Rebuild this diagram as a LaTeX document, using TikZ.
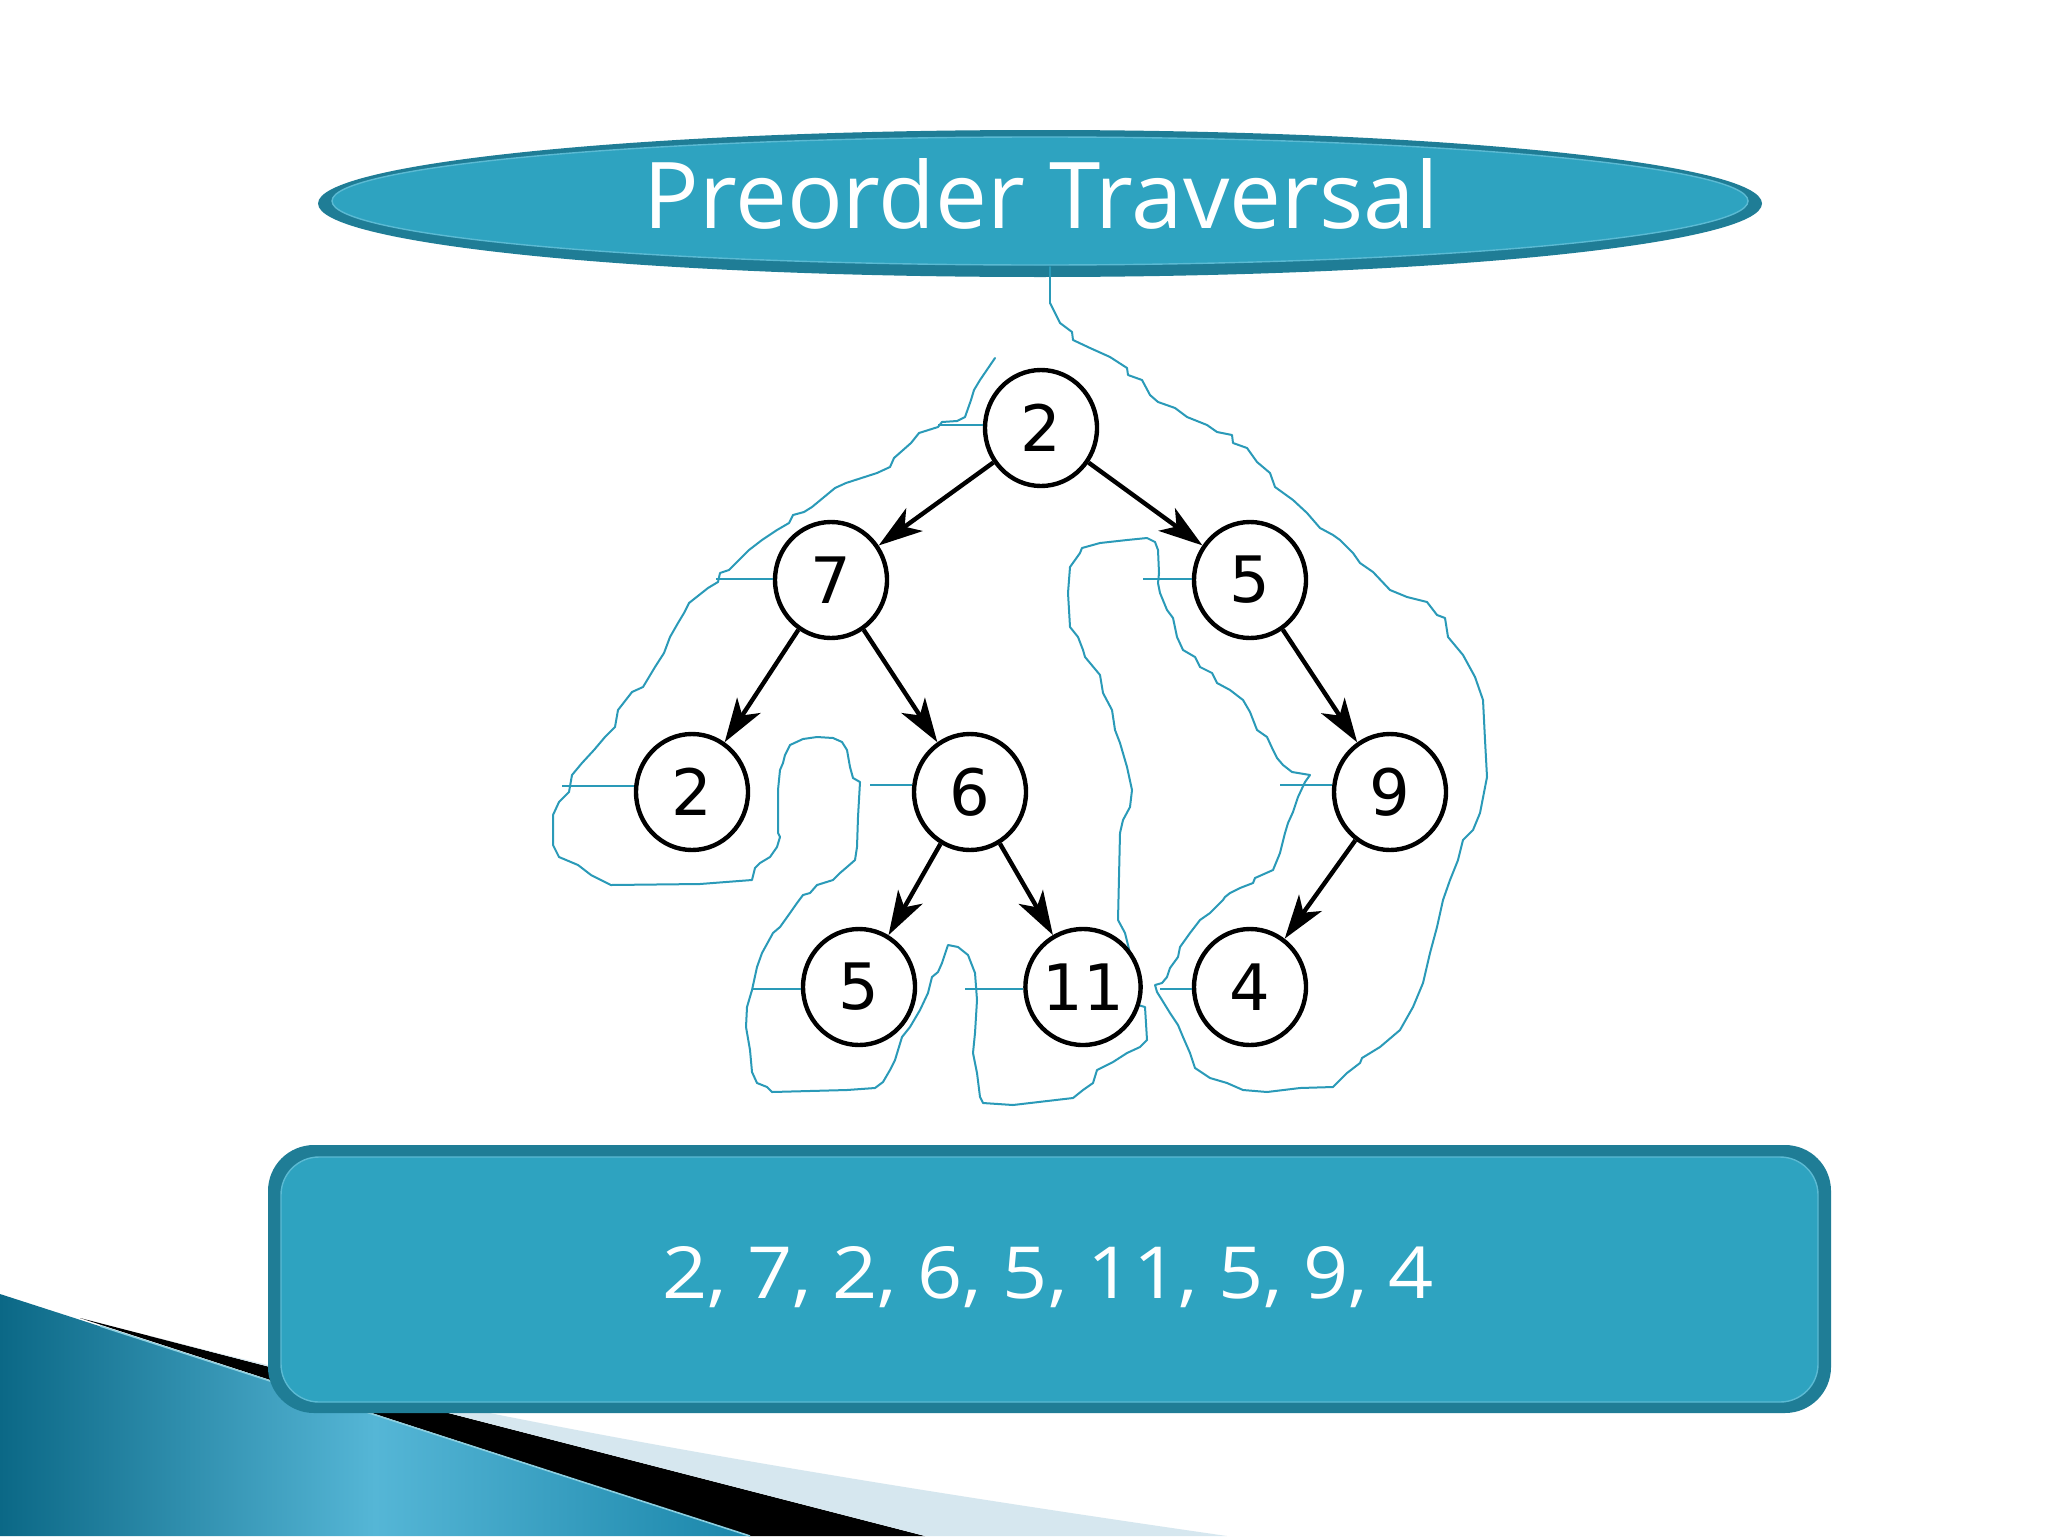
\documentclass[tikz,border=0pt]{standalone}
\usepackage{fontspec}
\newfontfamily\titlefont{Open Sans}
\newfontfamily\digitfont{DejaVu Sans}
\usetikzlibrary{arrows.meta,shapes.geometric}
\definecolor{mainfill}{HTML}{2EA3C0}
\definecolor{rimcol}{HTML}{1F7D96}
\definecolor{hlcol}{HTML}{5BBAD3}
\definecolor{travcol}{HTML}{2A9AB8}
\definecolor{tealdark}{HTML}{0B6886}
\definecolor{teallight}{HTML}{55B6D6}
\definecolor{tealmid}{HTML}{1A86AA}
\definecolor{paleblue}{HTML}{D6E7EF}
\tikzset{
  treenode/.style={ellipse, draw=black, line width=2.2pt, fill=white, minimum width=56pt, minimum height=58pt, inner sep=0pt, font=\digitfont\fontsize{32}{32}\selectfont},
  arr/.style={line width=2.2pt, -{Stealth[length=22pt,width=14pt,inset=6pt]}},
  trav/.style={travcol, line width=1pt, line join=round, line cap=round},
  tickline/.style={travcol, line width=1pt}
}
\begin{document}
\begin{tikzpicture}[x=0.5pt,y=-0.5pt]
\useasboundingbox (0,0) rectangle (2048,1536);
\fill[white] (0,0) rectangle (2048,1536);
% bottom-left decoration
\shade[left color=tealdark, right color=tealmid, middle color=teallight] (0,1294) -- (750,1536) -- (0,1536) -- cycle;
\fill[black] (80,1318) -- (925,1536) -- (750,1536) -- cycle;
\fill[paleblue] (150,1336) .. controls (400,1400) and (700,1460) .. (1227,1536) -- (925,1536) -- cycle;
\draw[hlcol!70!white, line width=0.8pt] (100,1326) -- (750,1536);
% title ellipse
\fill[rimcol] (1040,203.5) ellipse [x radius=722, y radius=73.5];
\fill[mainfill, draw=hlcol, line width=0.7pt] (1040,201) ellipse [x radius=708, y radius=64];
\node[anchor=base, text=white, inner sep=0pt] (title) at (1041,228) {\resizebox{397.5pt}{35pt}{\titlefont Preorder Traversal}};
\coordinate (tbottom) at (1050,267);
% result box
\fill[rimcol, rounded corners=23pt] (268,1145) rectangle (1831,1413);
\fill[mainfill, draw=hlcol, line width=0.7pt, rounded corners=19pt] (281,1157) rectangle (1818,1402);
\node[anchor=base, text=white, inner sep=0pt] (result) at (1048,1298) {\resizebox{385.5pt}{26pt}{\titlefont 2, 7, 2, 6, 5, 11, 5, 9, 4}};
% traversal curve
\draw[trav] plot coordinates {(995,358) (980,380) (974,390) (971,400) (965,417) (957,421) (942,422) (938,427) (919,433) (911,443) (894,458) (890,467) (877,473) (846,483) (835,488) (812,507) (804,512) (793,515) (789,523) (777,530) (762,540) (749,550) (739,560) (729,570) (720,573) (718,582) (708,588) (689,603) (684,613) (678,623) (670,637) (664,653) (655,667) (643,687) (632,692) (618,710) (615,727) (605,737) (594,750) (582,763) (572,775) (569,792) (559,802) (553,815) (553,845) (559,857) (578,865) (591,875) (611,885) (700,884) (752,880)
(755,868) (760,863) (770,857) (777,847) (780,837) (778,833) (778,790) (780,770) (783,763) (785,755) (790,745) (803,739) (817,737) (833,738) (842,742) (847,750) (850,767) (853,778) (860,782) (858,817) (857,847) (855,860) (847,867) (840,873) (833,880) (817,885) (810,893) (803,895) (797,903) (790,913) (780,927) (773,933) (762,953) (757,967) (752,990) (747,1007) (746,1027) (750,1050) (752,1072) (757,1083) (767,1087) (772,1092) (847,1090) (875,1088) (883,1082) (890,1070) (895,1060) (902,1037) (910,1027) (920,1010) (928,993) (932,977) (938,972) (942,963) (947,948) (948,945) (958,947) (968,955) (975,973) (977,1000) (975,1033) (973,1053) (977,1073) (980,1097) (983,1103) (1013,1105) (1073,1098) (1083,1090) (1093,1083) (1097,1070) (1113,1062) (1127,1053) (1140,1047) (1147,1040) (1145,1007) (1138,1005) (1135,1000) (1133,980) (1130,953) (1125,933) (1118,920) (1120,833) (1123,820) (1130,807) (1132,790) (1127,767) (1120,743) (1115,730) (1112,710) (1103,693) (1100,675) (1085,657) (1083,650) (1078,637) (1070,627) (1068,593) (1070,567) (1080,553) (1082,548) (1100,543) (1127,540) (1147,538) (1155,542) (1158,550) (1159,573) (1158,583) (1160,593) (1167,610) (1173,618) (1177,637) (1183,650) (1195,657) (1200,667) (1212,673) (1217,683) (1230,690) (1243,700) (1250,712) (1257,730) (1267,737) (1273,750) (1277,758) (1283,765) (1292,772) (1310,775) (1305,782) (1298,797) (1293,812) (1288,823) (1285,833) (1280,853) (1273,870) (1255,878) (1253,883) (1240,888) (1230,893) (1225,897) (1223,900) (1210,913) (1200,920) (1190,933) (1180,947) (1178,957) (1170,968) (1167,977) (1162,983) (1155,985) (1157,992) (1162,1000) (1170,1013) (1178,1025) (1183,1037) (1190,1053) (1195,1068) (1210,1078) (1227,1083) (1243,1090) (1267,1092) (1300,1088) (1333,1087) (1347,1073) (1360,1063) (1362,1058) (1380,1047) (1400,1030) (1413,1007) (1423,983) (1430,953) (1437,927) (1443,900) (1450,880) (1458,860) (1463,840) (1473,830) (1480,813) (1487,777) (1485,740) (1483,700) (1475,677) (1463,655) (1448,637) (1445,618) (1437,615) (1427,602) (1407,597) (1390,590) (1373,572) (1360,563) (1353,553) (1340,540) (1333,535) (1320,528) (1307,513) (1293,500) (1275,487) (1270,473) (1257,462) (1247,448) (1233,443) (1232,435) (1217,432) (1207,425) (1187,417) (1175,408) (1158,402) (1150,395) (1142,380) (1128,375) (1127,368) (1110,357) (1090,348) (1073,340) (1072,332) (1060,323) (1050,303)};
\draw[trav] (1050,303) -- (tbottom);
% tree nodes
\node[treenode] (r) at (1041,428) {2};
\node[treenode] (a) at (831,580) {7};
\node[treenode] (b) at (1250,580) {5};
\node[treenode] (c) at (692,792) {2};
\node[treenode] (d) at (970,792) {6};
\node[treenode] (e) at (1390,792) {9};
\node[treenode] (f) at (859,987) {5};
\node[treenode] (g) at (1083,987) {11};
\node[treenode] (h) at (1250,987) {4};
% edges
\draw[arr] (r) -- (a);
\draw[arr] (r) -- (b);
\draw[arr] (a) -- (c);
\draw[arr] (a) -- (d);
\draw[arr] (b) -- (e);
\draw[arr] (d) -- (f);
\draw[arr] (d) -- (g);
\draw[arr] (e) -- (h);
% ticks
\coordinate (tr) at (938,425);
\coordinate (ta) at (716,579);
\coordinate (tb) at (1143,579);
\coordinate (tc) at (562,786);
\coordinate (td) at (870,785);
\coordinate (te) at (1280,785);
\coordinate (tf) at (752,989);
\coordinate (tg) at (965,989);
\coordinate (th) at (1160,989);
\draw[tickline] (tr) -- (tr -| r.west);
\draw[tickline] (ta) -- (ta -| a.west);
\draw[tickline] (tb) -- (tb -| b.west);
\draw[tickline] (tc) -- (tc -| c.west);
\draw[tickline] (td) -- (td -| d.west);
\draw[tickline] (te) -- (te -| e.west);
\draw[tickline] (tf) -- (tf -| f.west);
\draw[tickline] (tg) -- (tg -| g.west);
\draw[tickline] (th) -- (th -| h.west);
\end{tikzpicture}
\end{document}
